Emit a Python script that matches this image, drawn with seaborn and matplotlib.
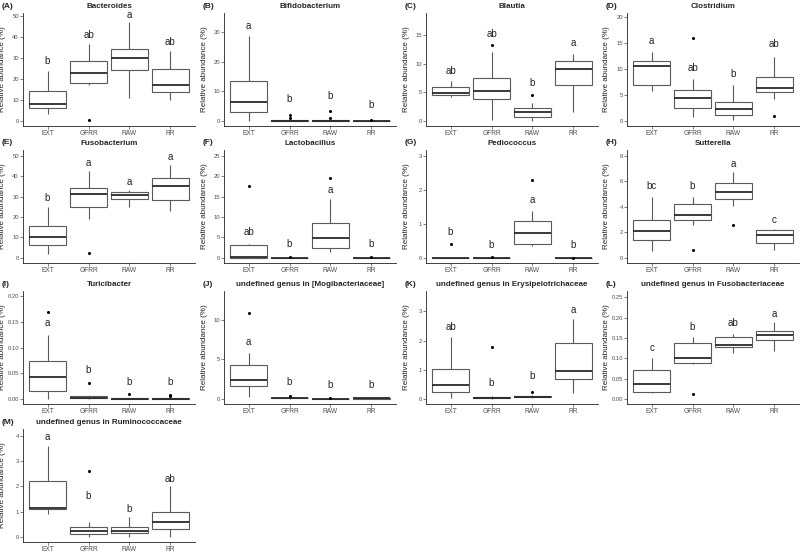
import numpy as np
import pandas as pd
import matplotlib
matplotlib.use("Agg")
import matplotlib.pyplot as plt
import seaborn as sns

sns.set_theme(style="ticks")
plt.rcParams["font.family"] = ["Liberation Sans", "DejaVu Sans"]

groups = ["EXT", "GFRR", "RAW", "RR"]

# five-number summaries per group: [low whisker, Q1, median, Q3, high whisker]
bacteroides = [[3.5, 6.3, 8.0, 14.3, 24.0], [17.0, 18.3, 22.7, 28.4, 37.0],
               [11.0, 24.2, 30.3, 34.3, 47.5], [10.0, 14.0, 17.2, 25.0, 33.5]]
bacteroides_out = [[], [0.2], [], []]
bacteroides_let = ["b", "ab", "a", "ab"]
bacteroides_ly = [28.5, 41.0, 50.5, 37.5]

bifido = [[0.0, 3.0, 6.5, 13.3, 28.5], [0.0, 0.0, 0.1, 0.2, 0.4],
          [0.0, 0.0, 0.1, 0.3, 0.5], [0.0, 0.0, 0.0, 0.1, 0.2]]
bifido_out = [[], [0.8, 2.0], [0.9, 3.4], [0.4]]
bifido_let = ["a", "b", "b", "b"]
bifido_ly = [32.0, 7.5, 8.5, 5.5]

blautia = [[4.1, 4.5, 4.9, 5.9, 7.0], [0.1, 3.9, 5.3, 7.5, 12.0],
           [0.0, 0.7, 1.6, 2.2, 3.1], [1.6, 6.3, 9.1, 10.5, 11.7]]
blautia_out = [[], [13.3], [4.5], []]
blautia_let = ["ab", "ab", "b", "a"]
blautia_ly = [8.7, 15.3, 6.7, 13.6]

clostridium = [[5.7, 6.9, 10.6, 11.6, 13.2], [0.8, 2.4, 4.5, 6.0, 8.1],
               [0.1, 1.2, 2.2, 3.7, 7.0], [4.3, 5.5, 6.4, 8.4, 12.4]]
clostridium_out = [[], [15.9], [], [0.9]]
clostridium_let = ["a", "ab", "b", "ab"]
clostridium_ly = [15.4, 10.2, 9.0, 14.8]

fuso = [[2.0, 6.5, 10.0, 15.5, 25.0], [19.0, 25.0, 31.5, 34.3, 42.7],
        [25.0, 29.0, 31.0, 32.5, 33.5], [23.0, 28.5, 35.3, 39.3, 45.5]]
fuso_out = [[], [2.2], [], []]
fuso_let = ["b", "a", "a", "a"]
fuso_ly = [29.5, 46.5, 37.0, 49.5]

lacto = [[0.0, 0.0, 0.1, 3.1, 3.3], [0.0, 0.0, 0.0, 0.0, 0.0],
         [1.5, 2.3, 4.9, 8.5, 14.3], [0.0, 0.0, 0.0, 0.0, 0.0]]
lacto_out = [[17.7], [0.1], [19.6], [0.1]]
lacto_let = ["ab", "b", "a", "b"]
lacto_ly = [6.4, 3.5, 16.5, 3.5]

pedio = [[0.0, 0.0, 0.0, 0.0, 0.0], [0.0, 0.0, 0.0, 0.0, 0.0],
         [0.35, 0.42, 0.72, 1.07, 1.37], [0.0, 0.0, 0.0, 0.0, 0.0]]
pedio_out = [[0.4], [0.02], [2.28], [0.01]]
pedio_let = ["b", "b", "a", "b"]
pedio_ly = [0.75, 0.38, 1.7, 0.38]

sutter = [[0.5, 1.4, 2.1, 3.0, 4.8], [2.6, 3.0, 3.35, 4.2, 4.8],
          [4.1, 4.65, 5.15, 5.85, 6.7], [0.6, 1.2, 1.8, 2.15, 2.25]]
sutter_out = [[], [0.6], [2.6], []]
sutter_let = ["bc", "b", "a", "c"]
sutter_ly = [5.6, 5.6, 7.4, 3.0]

turici = [[0.0, 0.015, 0.042, 0.074, 0.124], [0.0, 0.001, 0.002, 0.005, 0.006],
          [0.0, 0.0, 0.0, 0.001, 0.002], [0.0, 0.0, 0.0, 0.002, 0.004]]
turici_out = [[0.17], [0.03], [0.009], [0.006, 0.008]]
turici_let = ["a", "b", "b", "b"]
turici_ly = [0.148, 0.056, 0.033, 0.033]

mogi = [[0.2, 1.6, 2.4, 4.3, 5.8], [0.0, 0.05, 0.1, 0.15, 0.2],
        [0.0, 0.0, 0.0, 0.03, 0.05], [0.0, 0.02, 0.05, 0.1, 0.15]]
mogi_out = [[10.9], [0.4], [0.15], []]
mogi_let = ["a", "b", "b", "b"]
mogi_ly = [7.2, 2.1, 1.7, 1.7]

erysi = [[0.02, 0.25, 0.48, 1.01, 2.12], [0.0, 0.02, 0.04, 0.06, 0.1],
         [0.03, 0.05, 0.07, 0.1, 0.12], [0.2, 0.68, 0.95, 1.92, 2.75]]
erysi_out = [[], [1.78], [0.22], []]
erysi_let = ["ab", "b", "b", "a"]
erysi_ly = [2.45, 0.55, 0.77, 3.05]

fusofam = [[0.015, 0.018, 0.037, 0.072, 0.1], [0.085, 0.088, 0.102, 0.137, 0.152],
           [0.112, 0.127, 0.132, 0.152, 0.16], [0.118, 0.145, 0.158, 0.168, 0.19]]
fusofam_out = [[], [0.013], [], []]
fusofam_let = ["c", "b", "ab", "a"]
fusofam_ly = [0.125, 0.178, 0.187, 0.21]

rumino = [[0.9, 1.1, 1.15, 2.2, 3.6], [0.0, 0.1, 0.25, 0.4, 0.6],
          [0.0, 0.15, 0.25, 0.4, 0.8], [0.0, 0.3, 0.6, 1.0, 2.0]]
rumino_out = [[], [2.6], [], []]
rumino_let = ["a", "b", "b", "ab"]
rumino_ly = [3.95, 1.62, 1.1, 2.3]

titles = ["Bacteroides", "Bifidobacterium", "Blautia", "Clostridium",
          "Fusobacterium", "Lactobacillus", "Pediococcus", "Sutterella",
          "Turicibacter", "undefined genus in [Mogibacteriaceae]",
          "undefined genus in Erysipelotrichaceae",
          "undefined genus in Fusobacteriaceae",
          "undefined genus in Ruminococcaceae"]
tags = ["(A)", "(B)", "(C)", "(D)", "(E)", "(F)", "(G)", "(H)",
        "(I)", "(J)", "(K)", "(L)", "(M)"]

# axis ranges and tick steps
y_tops = [51.6, 36.4, 18.9, 20.8, 52.9, 26.4, 3.17, 8.46, 0.21, 13.7, 3.7, 0.266, 4.27]
y_steps = [10, 10, 5, 5, 10, 5, 1, 2, 0.05, 5, 1, 0.05, 1]

panels = [
    (bacteroides, bacteroides_out, bacteroides_let, bacteroides_ly),
    (bifido, bifido_out, bifido_let, bifido_ly),
    (blautia, blautia_out, blautia_let, blautia_ly),
    (clostridium, clostridium_out, clostridium_let, clostridium_ly),
    (fuso, fuso_out, fuso_let, fuso_ly),
    (lacto, lacto_out, lacto_let, lacto_ly),
    (pedio, pedio_out, pedio_let, pedio_ly),
    (sutter, sutter_out, sutter_let, sutter_ly),
    (turici, turici_out, turici_let, turici_ly),
    (mogi, mogi_out, mogi_let, mogi_ly),
    (erysi, erysi_out, erysi_let, erysi_ly),
    (fusofam, fusofam_out, fusofam_let, fusofam_ly),
    (rumino, rumino_out, rumino_let, rumino_ly),
]

W, H = 800, 555
col_left = [23, 224, 426, 627]
row_top = [13, 150, 291, 429]
ax_w, ax_h = 172, 113

fig = plt.figure(figsize=(W / 100, H / 100), dpi=100)

for k, (stats, outs, lets, lys) in enumerate(panels):
    r, c = divmod(k, 4)
    ax = fig.add_axes([col_left[c] / W, 1 - (row_top[r] + ax_h) / H, ax_w / W, ax_h / H])

    df = pd.DataFrame([(g, v) for g, s in zip(groups, stats) for v in s],
                      columns=["group", "value"])
    sns.boxplot(data=df, x="group", y="value", order=groups, whis=np.inf,
                width=0.9, color="white", saturation=1, linecolor="#5a5a5a",
                linewidth=0.8, showcaps=False,
                medianprops=dict(color="#2a2a2a", linewidth=1.3), ax=ax)

    odf = pd.DataFrame([(g, v) for g, o in zip(groups, outs) for v in o],
                       columns=["group", "value"])
    if len(odf):
        sns.stripplot(data=odf, x="group", y="value", order=groups, jitter=False,
                      color="black", size=2.2, linewidth=0, ax=ax)

    for i, (lt, ly) in enumerate(zip(lets, lys)):
        ax.text(i, ly, lt, ha="center", va="center", fontsize=7, color="#222222")

    top = y_tops[k]
    ax.set_xlim(-0.6, 3.6)
    ax.set_ylim(-0.05 * top / 1.05, top)
    step = y_steps[k]
    ticks = np.arange(0, top + 1e-9, step)
    ax.set_yticks(ticks)
    if step < 1:
        ax.set_yticklabels([f"{t:.2f}" for t in ticks])
    else:
        ax.set_yticklabels([f"{t:g}" for t in ticks])

    ax.set_xlabel("")
    ax.set_ylabel("Relative abundance (%)", fontsize=5.8, color="#222222")
    ax.yaxis.set_label_coords(-16.5 / ax_w, 0.5)
    ax.set_title(titles[k], fontsize=5.8, fontweight="bold", pad=3.5)
    ax.tick_params(axis="both", colors="#4d4d4d", length=2, width=0.5, pad=1.2)
    ax.tick_params(axis="x", labelsize=4.8)
    ax.tick_params(axis="y", labelsize=4.2, pad=1.0)
    for sp in ["left", "bottom"]:
        ax.spines[sp].set_linewidth(0.6)
        ax.spines[sp].set_color("#222222")
    sns.despine(ax=ax)

    fig.text((col_left[c] - 21) / W, 1 - (row_top[r] - 7) / H, tags[k],
             fontsize=6, fontweight="bold", ha="left", va="center")

fig.savefig("out.png", dpi=100, facecolor="white")
